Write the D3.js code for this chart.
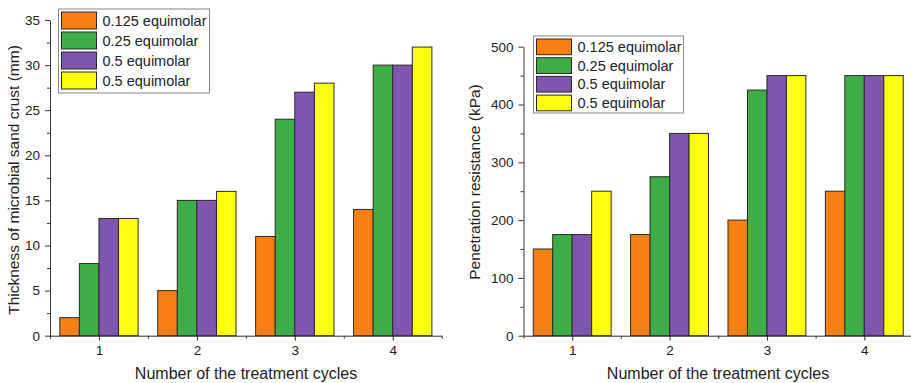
<!DOCTYPE html>
<html>
<head>
<meta charset="utf-8">
<script src="https://cdn.jsdelivr.net/npm/d3@7"></script>
<style>
  html, body { margin: 0; padding: 0; background: #fff; }
  svg { display: block; font-family: Arial, "Liberation Sans", sans-serif; }
</style>
</head>
<body>
<div id="chart"></div>
<script>
// categories and series
const cycles = [1, 2, 3, 4];
const seriesNames = ['0.125 equimolar', '0.25 equimolar', '0.5 equimolar', '0.5 equimolar'];
const seriesColors = ['#f98010', '#3fad47', '#7e56ad', '#ffff10'];

// left panel: thickness of crust (mm)
const thick0125 = [2, 5, 11, 14];
const thick025 = [8, 15, 24, 30];
const thick05 = [13, 15, 27, 30];
const thick05b = [13, 16, 28, 32];
const thickTicks = [0, 5, 10, 15, 20, 25, 30, 35];

// right panel: penetration resistance (kPa)
const pen0125 = [150, 175, 200, 250];
const pen025 = [175, 275, 425, 450];
const pen05 = [175, 350, 450, 450];
const pen05b = [250, 350, 450, 450];
const penTicks = [0, 100, 200, 300, 400, 500];

const width = 911, height = 383;
const svg = d3.select('#chart').append('svg')
  .attr('width', width)
  .attr('height', height);

function drawPanel(opts) {
  const x = d3.scaleLinear().domain([0.5, 4.5]).range([opts.left, opts.right]);
  const y = d3.scaleLinear().domain([0, opts.max]).range([opts.bottom, opts.top]);
  const g = svg.append('g');
  const axisColor = '#333';

  // bars
  const barW = 0.2;
  opts.series.forEach(function(vals, si) {
    g.selectAll(null)
      .data(vals.map(function(v, i) { return { c: cycles[i], v: v }; }))
      .enter()
      .append('rect')
        .attr('x', function(d) { return x(d.c - 0.4 + si * barW); })
        .attr('width', function(d) { return x(d.c - 0.4 + (si + 1) * barW) - x(d.c - 0.4 + si * barW); })
        .attr('y', function(d) { return y(d.v); })
        .attr('height', function(d) { return y(0) - y(d.v); })
        .attr('fill', seriesColors[si])
        .attr('stroke', '#2a2a2a')
        .attr('stroke-width', 1);
  });

  // y axis with minor ticks
  const step = opts.ticks[1] - opts.ticks[0];
  const minor = opts.ticks.slice(0, -1).map(function(t) { return t + step / 2; });
  g.append('g')
    .attr('transform', 'translate(' + opts.left + ',0)')
    .call(d3.axisLeft(y).tickValues(minor).tickSize(3).tickFormat(''))
    .call(function(s) { s.select('.domain').remove(); });
  const ya = g.append('g')
    .attr('transform', 'translate(' + opts.left + ',0)')
    .call(d3.axisLeft(y).tickValues(opts.ticks).tickSize(5).tickSizeOuter(0).tickPadding(5));
  ya.selectAll('text').style('font-size', '13.5px').style('fill', '#222');
  ya.selectAll('.domain, .tick line').style('stroke', axisColor);

  // x axis with minor ticks
  g.append('g')
    .attr('transform', 'translate(0,' + opts.bottom + ')')
    .call(d3.axisBottom(x).tickValues([0.5, 1.5, 2.5, 3.5, 4.5]).tickSize(3).tickFormat(''))
    .call(function(s) { s.select('.domain').remove(); })
    .selectAll('.tick line').style('stroke', axisColor);
  const xa = g.append('g')
    .attr('transform', 'translate(0,' + opts.bottom + ')')
    .call(d3.axisBottom(x).tickValues(cycles).tickSize(5).tickSizeOuter(0).tickPadding(5).tickFormat(d3.format('d')));
  xa.selectAll('text').style('font-size', '13.5px').style('fill', '#222');
  xa.selectAll('.domain, .tick line').style('stroke', axisColor);
  g.selectAll('.tick line').style('stroke', axisColor);

  // axis titles
  g.append('text')
    .attr('x', opts.xTitleX)
    .attr('y', 378.5)
    .attr('text-anchor', 'middle')
    .style('font-size', '16px')
    .style('fill', '#222')
    .text('Number of the treatment cycles');
  g.append('text')
    .attr('transform', 'translate(' + opts.yTitleX + ',' + opts.yTitleY + ') rotate(-90)')
    .attr('text-anchor', 'middle')
    .attr('dy', '0.35em')
    .style('font-size', opts.yTitleSize)
    .style('fill', '#222')
    .text(opts.yTitle);

  // legend
  const lg = g.append('g');
  lg.append('rect')
    .attr('x', opts.legend.x).attr('y', opts.legend.y)
    .attr('width', opts.legend.w).attr('height', opts.legend.h)
    .attr('fill', '#fff').attr('stroke', '#888').attr('stroke-width', 1);
  const rows = lg.selectAll('.row')
    .data(seriesNames)
    .enter().append('g')
      .attr('transform', function(d, i) {
        return 'translate(' + (opts.legend.x + 3) + ',' + (opts.legend.y + 3 + i * opts.legend.row) + ')';
      });
  rows.append('rect')
    .attr('width', 35).attr('height', opts.legend.row - 3)
    .attr('fill', function(d, i) { return seriesColors[i]; })
    .attr('stroke', '#2a2a2a').attr('stroke-width', 1);
  rows.append('text')
    .attr('x', 41)
    .attr('y', (opts.legend.row - 3) / 2)
    .attr('dy', '0.35em')
    .style('font-size', '14.5px')
    .style('fill', '#222')
    .text(function(d) { return d; });
}

drawPanel({
  left: 50, right: 441.7, top: 20, bottom: 335.7, max: 35,
  ticks: thickTicks,
  series: [thick0125, thick025, thick05, thick05b],
  yTitle: 'Thickness of microbial sand crust (mm)', yTitleX: 14, yTitleY: 180, yTitleSize: '15.5px',
  xTitleX: 246,
  legend: { x: 58.5, y: 9, w: 151, h: 84, row: 20 }
});

drawPanel({
  left: 523.5, right: 913, top: 46.7, bottom: 335.7, max: 500,
  ticks: penTicks,
  series: [pen0125, pen025, pen05, pen05b],
  yTitle: 'Penetration resistance (kPa)', yTitleX: 475, yTitleY: 182, yTitleSize: '15.5px',
  xTitleX: 718,
  legend: { x: 533.5, y: 36, w: 150, h: 77, row: 18.7 }
});
</script>
</body>
</html>
